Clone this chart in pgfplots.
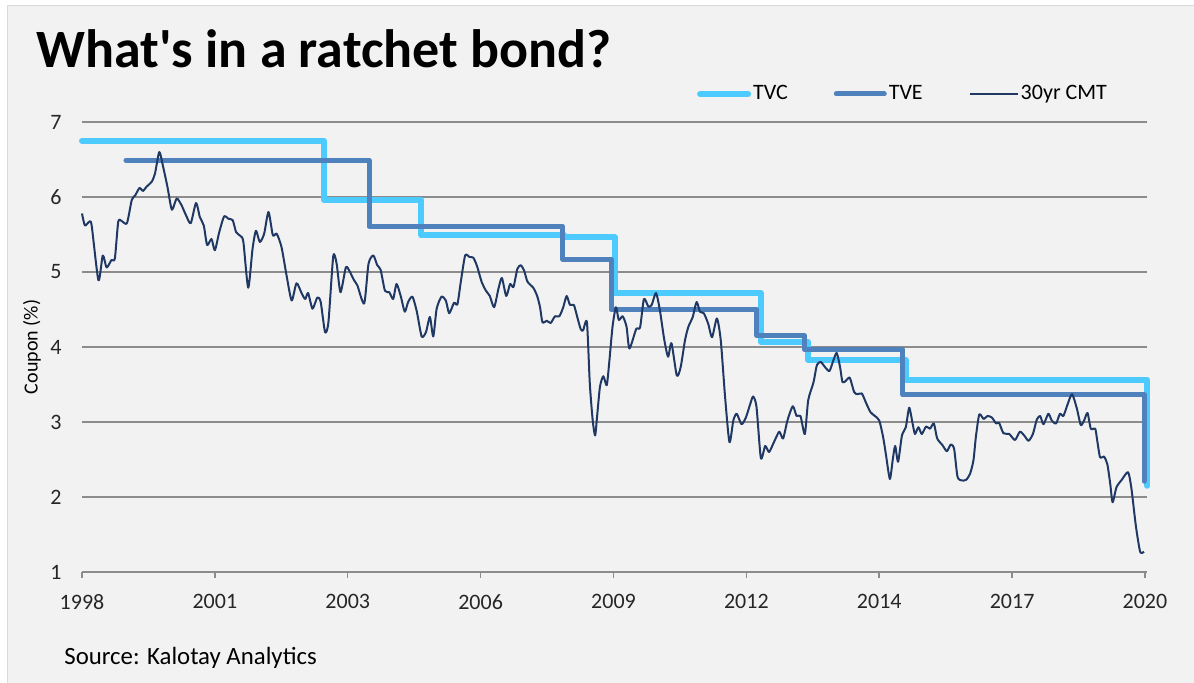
\documentclass[border=0pt]{standalone}
\usepackage{fontspec}
\setmainfont{Carlito}
\usepackage{pgfplots}
\pgfplotsset{compat=1.18}
\definecolor{tvc}{HTML}{4DCBFF}
\definecolor{tve}{HTML}{4F81BD}
\definecolor{cmt}{HTML}{1F3864}
\definecolor{bg}{HTML}{F2F2F2}
\definecolor{gridc}{HTML}{8C8C8C}
\begin{document}
\begin{tikzpicture}
\path[use as bounding box] (0,0) rectangle (597pt,341.5pt);
\fill[white] (0,0) rectangle (597pt,341.5pt);
\fill[bg] (3.5pt,0pt) rectangle (597pt,338.5pt);
\draw[draw=black!15, line width=0.5pt] (3.5pt,0pt) -- (3.5pt,338.5pt) -- (597pt,338.5pt);
\node[anchor=base west, font=\fontsize{27}{32}\selectfont\bfseries, inner sep=0pt] at (18pt,307.5pt) {What\textquotesingle s in a ratchet bond?};
\node[anchor=base west, font=\fontsize{12.4}{14}\selectfont, inner sep=0pt] at (32pt,9pt) {Source: Kalotay Analytics};
\begin{axis}[
  at={(41pt,55.5pt)}, anchor=south west,
  scale only axis, width=532.7pt, height=225pt,
  xmin=1998, xmax=2020.05, ymin=1, ymax=7,
  clip=false,
  axis x line*=bottom, axis y line*=left,
  y axis line style={draw=none},
  x axis line style={gridc, line width=0.75pt, -},
  ytick={1,2,3,4,5,6,7},
  ymajorgrids, grid style={gridc, line width=0.75pt},
  xtick={1998,2000.75,2003.5,2006.25,2009,2011.75,2014.5,2017.25,2020},
  xticklabels={1998,2001,2003,2006,2009,2012,2014,2017,2020},
  tick align=outside, major tick length=3pt,
  xtick style={gridc, line width=0.75pt},
  ytick style={draw=none},
  tick label style={font=\fontsize{11}{13}\selectfont, text=black!85},
  /pgf/number format/assume math mode=true,
  yticklabel style={inner sep=0pt, xshift=-7pt},
  xticklabel style={inner sep=0pt, yshift=-8pt},
  ylabel={Coupon (\%)},
  ylabel style={font=\fontsize{10}{12}\selectfont, at={(axis description cs:-0.047,0.5)}, anchor=center},
  legend columns=3,
  legend style={at={(0.5773,1.0622)}, anchor=west, draw=none, fill=none,
    font=\fontsize{11}{13}\selectfont, inner sep=0pt, outer sep=0pt,
    nodes={inner sep=1pt},
    /tikz/every even column/.append style={column sep=22pt}},
  legend image code/.code={\draw[#1] (0pt,0pt) -- (24pt,0pt);},
]
\addplot[tvc, line width=3pt, line join=round, line cap=round] coordinates {
(1998.0,6.75) (2003.01,6.75) (2003.01,5.96) (2005.02,5.96) (2005.02,5.49) (2007.98,5.49) (2007.98,5.46) (2009.03,5.46) (2009.03,4.72) (2012.05,4.72) (2012.05,4.07) (2013.03,4.07) (2013.03,3.83) (2015.05,3.83) (2015.05,3.56) (2020.05,3.56) (2020.05,2.15)
};
\addplot[tve, line width=2.5pt, line join=round, line cap=round] coordinates {
(1998.91,6.49) (2003.94,6.49) (2003.94,5.61) (2007.95,5.61) (2007.95,5.17) (2008.95,5.17) (2008.95,4.50) (2011.97,4.50) (2011.97,4.15) (2012.96,4.15) (2012.96,3.96) (2014.99,3.96) (2014.99,3.36) (2019.98,3.36) (2019.98,2.21)
};
\addplot[cmt, line width=1pt, smooth, tension=0.4, line join=round] coordinates {
(1998.00,5.78) (1998.06,5.62) (1998.15,5.67) (1998.20,5.62) (1998.34,4.89) (1998.43,5.22) (1998.51,5.06) (1998.61,5.16) (1998.68,5.18) (1998.75,5.67) (1998.82,5.68) (1998.93,5.65)
(1999.03,5.96) (1999.10,6.02) (1999.19,6.12) (1999.26,6.08) (1999.34,6.14) (1999.44,6.20) (1999.51,6.31) (1999.60,6.60) (1999.68,6.40) (1999.77,6.13) (1999.86,5.83) (1999.96,5.98)
(2000.06,5.89) (2000.15,5.76) (2000.25,5.65) (2000.36,5.92) (2000.44,5.73) (2000.52,5.62) (2000.59,5.36) (2000.68,5.44) (2000.75,5.29) (2000.84,5.53) (2000.94,5.74)
(2001.03,5.71) (2001.12,5.69) (2001.19,5.53) (2001.28,5.48) (2001.34,5.40) (2001.44,4.79) (2001.53,5.31) (2001.60,5.55) (2001.68,5.40) (2001.77,5.51) (2001.86,5.80) (2001.95,5.49)
(2002.03,5.51) (2002.13,5.33) (2002.24,4.93) (2002.34,4.62) (2002.44,4.85) (2002.55,4.71) (2002.62,4.64) (2002.68,4.72) (2002.77,4.51) (2002.87,4.66) (2002.94,4.60)
(2003.03,4.20) (2003.10,4.33) (2003.20,5.21) (2003.27,5.11) (2003.35,4.73) (2003.46,5.06) (2003.53,5.02) (2003.63,4.89) (2003.70,4.82) (2003.84,4.58) (2003.93,5.11)
(2004.03,5.22) (2004.11,5.09) (2004.18,5.03) (2004.27,4.75) (2004.36,4.73) (2004.44,4.64) (2004.51,4.84) (2004.60,4.67) (2004.68,4.47) (2004.75,4.60) (2004.84,4.67) (2004.93,4.47)
(2005.03,4.14) (2005.12,4.20) (2005.20,4.40) (2005.27,4.14) (2005.34,4.51) (2005.44,4.67) (2005.53,4.62) (2005.60,4.45) (2005.70,4.59) (2005.77,4.57) (2005.84,4.87) (2005.93,5.22)
(2006.02,5.20) (2006.10,5.19) (2006.18,5.07) (2006.27,4.87) (2006.36,4.75) (2006.44,4.68) (2006.53,4.53) (2006.62,4.78) (2006.69,4.92) (2006.78,4.68) (2006.86,4.84) (2006.93,4.80)
(2007.01,5.04) (2007.08,5.09) (2007.15,5.02) (2007.22,4.87) (2007.34,4.79) (2007.42,4.68) (2007.48,4.53) (2007.53,4.33) (2007.62,4.35) (2007.70,4.32) (2007.79,4.41) (2007.88,4.41) (2007.96,4.53)
(2008.03,4.68) (2008.10,4.56) (2008.18,4.56) (2008.25,4.40) (2008.32,4.24) (2008.37,4.22) (2008.45,4.33) (2008.51,3.51) (2008.57,3.02) (2008.62,2.82) (2008.66,3.07) (2008.72,3.47) (2008.79,3.61) (2008.86,3.49) (2008.91,3.78) (2008.98,4.27)
(2009.05,4.53) (2009.11,4.36) (2009.19,4.41) (2009.27,4.27) (2009.33,3.98) (2009.47,4.24) (2009.55,4.26) (2009.63,4.64) (2009.72,4.54) (2009.79,4.56) (2009.88,4.72) (2009.96,4.49)
(2010.05,4.10) (2010.13,3.87) (2010.20,4.05) (2010.31,3.62) (2010.39,3.73) (2010.48,4.09) (2010.55,4.27) (2010.64,4.40) (2010.72,4.60) (2010.79,4.47) (2010.87,4.45) (2010.96,4.31)
(2011.04,4.13) (2011.14,4.38) (2011.22,4.09) (2011.31,3.33) (2011.40,2.73) (2011.48,3.02) (2011.55,3.11) (2011.65,2.97) (2011.74,3.06) (2011.83,3.24) (2011.89,3.34) (2011.96,3.20)
(2012.05,2.52) (2012.14,2.68) (2012.22,2.60) (2012.32,2.73) (2012.43,2.87) (2012.51,2.78) (2012.60,3.02) (2012.71,3.21) (2012.79,3.08) (2012.87,3.08) (2012.96,2.84)
(2013.03,3.29) (2013.14,3.53) (2013.21,3.76) (2013.29,3.80) (2013.38,3.73) (2013.47,3.68) (2013.55,3.82) (2013.62,3.92) (2013.69,3.73) (2013.74,3.53) (2013.81,3.55) (2013.89,3.59) (2013.98,3.40)
(2014.05,3.37) (2014.14,3.38) (2014.23,3.25) (2014.32,3.13) (2014.41,3.08) (2014.50,3.02) (2014.58,2.80) (2014.64,2.56) (2014.72,2.24) (2014.78,2.50) (2014.83,2.68) (2014.89,2.47) (2014.97,2.82)
(2015.05,2.93) (2015.12,3.19) (2015.19,2.98) (2015.24,2.84) (2015.31,2.93) (2015.38,2.84) (2015.47,2.94) (2015.55,2.91) (2015.63,2.98) (2015.70,2.78) (2015.81,2.69) (2015.90,2.61) (2015.98,2.70)
(2016.05,2.64) (2016.12,2.27) (2016.21,2.22) (2016.30,2.23) (2016.38,2.31) (2016.45,2.49) (2016.50,2.80) (2016.57,3.10) (2016.66,3.04) (2016.74,3.08) (2016.83,3.06) (2016.92,2.98) (2016.98,2.99)
(2017.07,2.85) (2017.19,2.84) (2017.31,2.76) (2017.41,2.87) (2017.50,2.82) (2017.59,2.75) (2017.68,2.84) (2017.76,3.03) (2017.83,3.08) (2017.90,2.97)
(2018.00,3.11) (2018.07,3.02) (2018.16,2.98) (2018.24,3.11) (2018.31,3.08) (2018.39,3.22) (2018.49,3.37) (2018.59,3.18) (2018.67,2.96) (2018.74,3.02) (2018.81,3.12) (2018.88,2.91) (2018.97,2.91)
(2019.01,2.76) (2019.07,2.53) (2019.15,2.54) (2019.22,2.44) (2019.28,2.18) (2019.33,1.93) (2019.41,2.13) (2019.52,2.23) (2019.65,2.33) (2019.72,2.11) (2019.81,1.62) (2019.90,1.27) (2019.98,1.27)
};
\legend{TVC,TVE,30yr CMT}
\end{axis}
\end{tikzpicture}
\end{document}
